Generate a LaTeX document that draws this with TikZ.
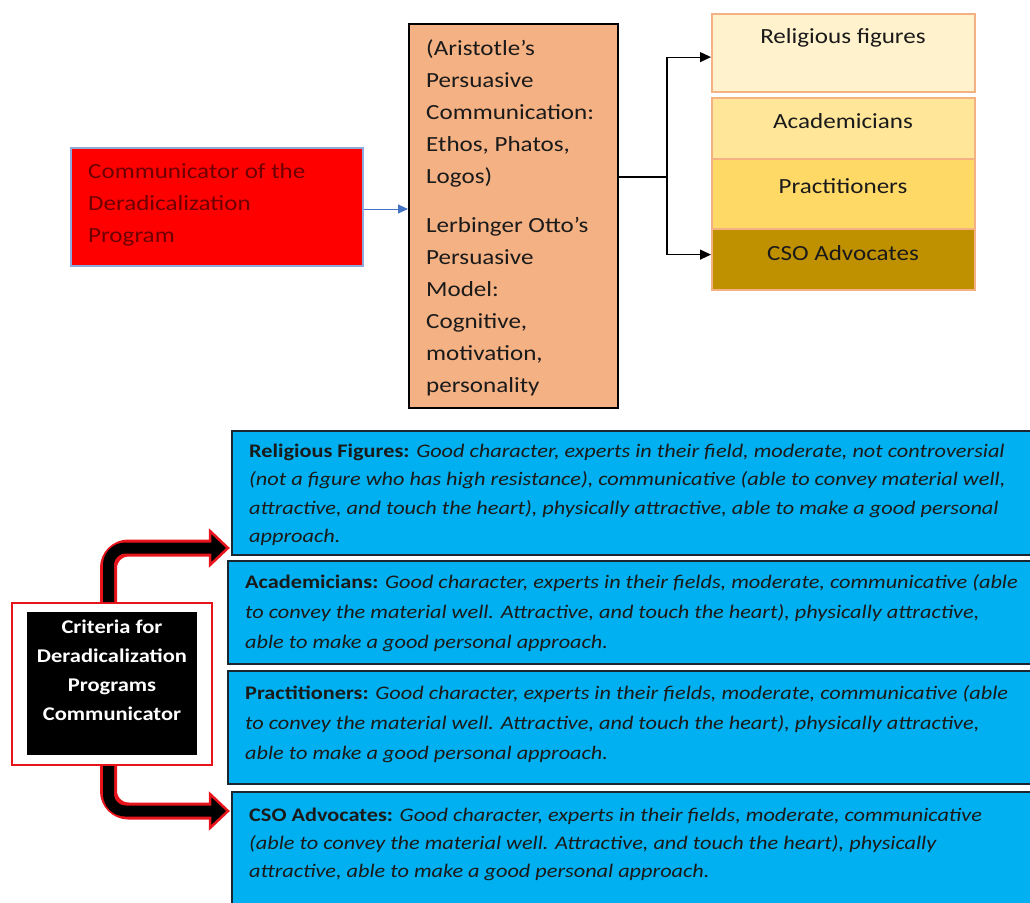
\documentclass[tikz,border=0pt]{standalone}
\usepackage{fontspec}
\setmainfont[FakeStretch=1.16]{Carlito}
\usetikzlibrary{arrows.meta,calc}
\definecolor{redfill}{HTML}{FF0000}
\definecolor{redborder}{HTML}{8EA9DB}
\definecolor{redtext}{HTML}{6E0000}
\definecolor{orangefill}{HTML}{F4B183}
\definecolor{relfill}{HTML}{FFF2CC}
\definecolor{acafill}{HTML}{FFE699}
\definecolor{pracfill}{HTML}{FFD966}
\definecolor{csofill}{HTML}{BF9000}
\definecolor{bluefill}{HTML}{00B0F0}
\definecolor{blueborder}{HTML}{1C2630}
\definecolor{bluearrow}{HTML}{4472C4}
\definecolor{textdark}{HTML}{1A1A1A}
\definecolor{critred}{HTML}{E8141B}
\begin{document}
\begin{tikzpicture}[x=1pt,y=-1pt,
  topbox/.style={draw, line width=1.5pt, inner sep=0pt, anchor=north west},
  toptext/.style={font=\fontsize{21.6}{32}\selectfont, align=left, inner sep=0pt, text=textdark},
  rightbox/.style={draw=orangefill, line width=2.2pt, inner sep=0pt, anchor=north west, minimum width=263pt},
  righttext/.style={font=\fontsize{21.6}{24}\selectfont, text=textdark, inner sep=0pt},
  bluebox/.style={draw=blueborder, fill=bluefill, line width=2pt, inner sep=0pt, anchor=north west},
  bluetext/.style={font=\fontsize{19.2}{28.5}\selectfont\itshape, align=left, inner sep=0pt, anchor=west, text=textdark},
  thin/.style={draw=black, line width=1.1pt},
  thinarrow/.style={thin, -{Triangle[length=11pt,width=10pt]}},
]
\useasboundingbox (0,0) rectangle (1030,902);
\clip (0,0) rectangle (1030,902);

% ---------- top part ----------
\node[topbox, draw=redborder, fill=redfill, minimum width=292pt, minimum height=118pt] (comm) at (70,147) {};
\node[toptext, text=redtext, anchor=west] (commtxt) at ($(comm.west)+(18,-2)$) {Communicator of the\\Deradicalization\\Program};

\node[topbox, draw=black, fill=orangefill, minimum width=209pt, minimum height=384pt] (theory) at (408,23) {};
\node[toptext, anchor=north west] (theorytxt) at (426,40) {(Aristotle's\\Persuasive\\Communication:\\Ethos, Phatos,\\Logos)\\[17pt]Lerbinger Otto's\\Persuasive\\Model:\\Cognitive,\\motivation,\\personality};

\node[rightbox, fill=relfill, minimum height=78pt] (rel) at (711,13) {};
\node[righttext] (reltxt) at (843,38) {Religious figures};
\node[rightbox, fill=acafill, minimum height=61pt] (aca) at (711,97) {};
\node[righttext] (acatxt) at (843,121) {Academicians};
\node[rightbox, fill=pracfill, minimum height=70pt] (prac) at (711,158) {};
\node[righttext] (practxt) at (843,186) {Practitioners};
\node[rightbox, fill=csofill, minimum height=61pt] (cso) at (711,228) {};
\node[righttext] (csotxt) at (843,253) {CSO Advocates};

\draw[draw=bluearrow, line width=1pt, -{Triangle[length=10pt,width=9pt]}] (comm.east |- 0,209) -- (theory.west |- 0,209);

\coordinate (junc) at (667,177);
\draw[thin] (theory.east |- junc) -- (junc);
\draw[thinarrow] (junc) |- ($(rel.west)+(0,4)$);
\draw[thinarrow] (junc) |- ($(cso.west)+(0,-5)$);

% ---------- bottom part ----------
\node[draw=critred, line width=2pt, fill=white, minimum width=200pt, minimum height=162pt, inner sep=0pt] (critout) at (112,684) {};
\node[fill=black, minimum width=170pt, minimum height=143pt, inner sep=0pt] (critin) at (112,683.5) {};
\node[font=\fontsize{19.4}{29}\selectfont\bfseries, text=white, align=center, inner sep=0pt] (crittxt) at (112,670.5) {Criteria for\\Deradicalization\\Programs\\Communicator};

\node[bluebox, minimum width=810pt, minimum height=124pt] (b1) at (231,430) {};
\node[bluetext] (b1t) at ($(b1.west)+(18,2)$) {\textbf{\upshape Religious Figures:} Good character, experts in their field, moderate, not controversial\\(not a figure who has high resistance), communicative (able to convey material well,\\attractive, and touch the heart), physically attractive, able to make a good personal\\approach.};

\node[bluebox, minimum width=810pt, minimum height=103pt] (b2) at (227,560) {};
\node[bluetext, font=\fontsize{19.2}{30}\selectfont\itshape] (b2t) at ($(b2.west)+(18,0.5)$) {\textbf{\upshape Academicians:} Good character, experts in their fields, moderate, communicative (able\\to convey the material well. Attractive, and touch the heart), physically attractive,\\able to make a good personal approach.};

\node[bluebox, minimum width=810pt, minimum height=113pt] (b3) at (227,670) {};
\node[bluetext, font=\fontsize{19.2}{30}\selectfont\itshape] (b3t) at ($(b3.west)+(18,-3)$) {\textbf{\upshape Practitioners:} Good character, experts in their fields, moderate, communicative (able\\to convey the material well. Attractive, and touch the heart), physically attractive,\\able to make a good personal approach.};

\node[bluebox, minimum width=810pt, minimum height=130pt] (b4) at (231,791) {};
\node[bluetext, anchor=north west, font=\fontsize{19.2}{28}\selectfont\itshape] (b4t) at (249,808) {\textbf{\upshape CSO Advocates:} Good character, experts in their fields, moderate, communicative\\(able to convey the material well. Attractive, and touch the heart), physically\\attractive, able to make a good personal approach.};

% thick arrows
\coordinate (up0) at (108.5,603);
\coordinate (up1) at (108.5,548);
\coordinate (uptip) at (228,548);
\coordinate (dn0) at (108.5,765);
\coordinate (dn1) at (108.5,811);
\coordinate (dntip) at (228,811);
\foreach \s/\c/\t/\o in {up0/up1/uptip/-1, dn0/dn1/dntip/1}{
  \draw[critred, line width=17pt, rounded corners=20pt] (\s) -- (\c) -- ($(\t)+(-18,0)$);
  \draw[critred, fill=black, line width=2.5pt, line join=miter] ($(\t)+(-18,-17)$) -- (\t) -- ($(\t)+(-18,17)$) -- cycle;
  \draw[black, line width=11pt, rounded corners=17pt] ($(\s)+(0,\o)$) -- (\c) -- ($(\t)+(-16,0)$);
}
\end{tikzpicture}
\end{document}
